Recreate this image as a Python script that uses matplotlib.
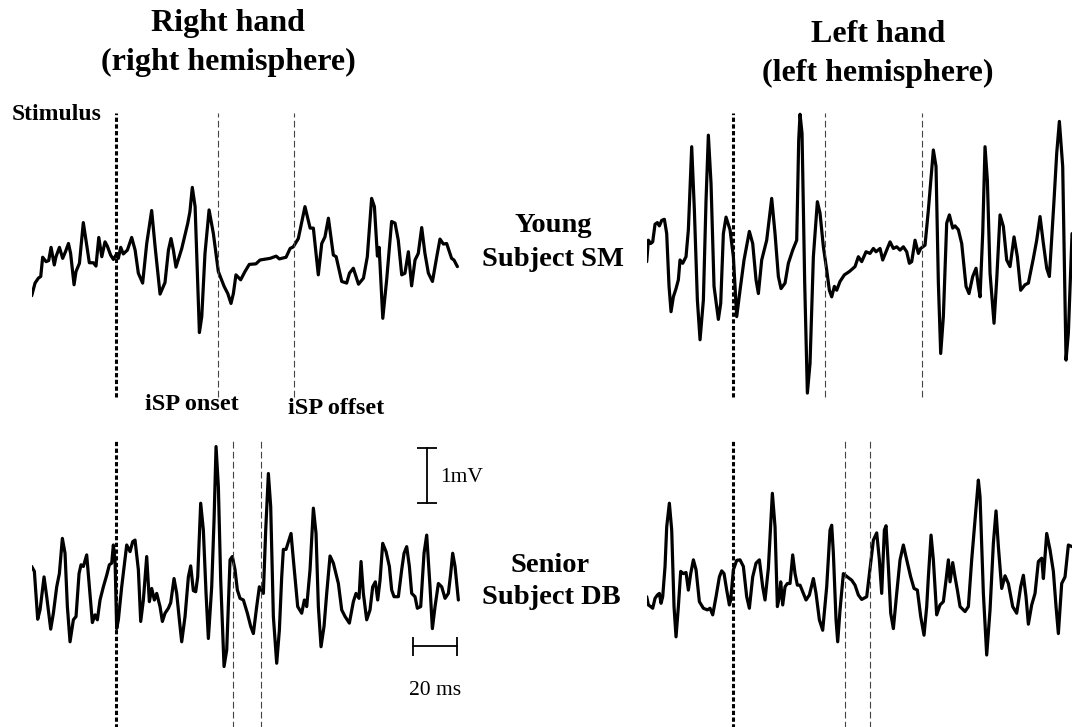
"""
EMG traces for the ipsilateral silent period (iSP), young vs senior subject,
right hand and left hand.
"""

import matplotlib
matplotlib.use("Agg")
import matplotlib.pyplot as plt

plt.rcParams['font.family'] = ['Liberation Serif', 'DejaVu Serif']

# ---- data: time (ms) and amplitude (mV) ----
t_young_right = [0, 1.55, 3.1, 4.2, 5.1, 6.7, 7.9, 9.0, 10.5, 11.3, 12.9, 14.4, 15.7, 17.1, 18.1,
                 19.7, 20.6, 22.2, 24.0, 25.9, 26.8, 28.7, 29.9, 31.2, 32.6, 34.1, 35.2, 36.7,
                 38.0, 39.2, 40.3, 41.4, 42.6, 44.5, 46.5, 48.1, 49.6, 51.6, 53.5, 55.8, 57.4,
                 59.7, 62.0, 63.6, 64.8, 65.9, 67.1, 69.8, 72.6, 73.6, 74.7, 76.0, 78.0, 79.1,
                 80.6, 82.5, 84.5, 86.8, 89.5, 91.2, 92.7, 93.8, 95.0, 97.2, 99.2, 101.2, 104.3,
                 106.2, 110.9, 113.7, 115.2, 118.3, 120.2, 121.7, 124.0, 127.1, 129.5, 131.0,
                 133.3, 134.9, 136.4, 138.0, 140.3, 141.6, 144.2, 146.5, 147.8, 149.6, 152.0,
                 154.3, 156.1, 158.1, 159.4, 160.8, 161.6, 163.3, 165.1, 167.4, 169.0, 170.5,
                 172.1, 173.6, 175.2, 176.7, 178.3, 179.8, 181.4, 182.9, 184.5, 186.4, 188.4,
                 189.9, 191.5, 193.0, 195.3, 196.4, 198.0]
v_young_right = [-0.65, -0.42, -0.33, -0.30, 0.05, -0.03, -0.01, 0.23, -0.09, 0.06, 0.23, 0.03,
                 0.15, 0.30, 0.12, -0.45, -0.21, -0.06, 0.68, 0.19, -0.05, -0.05, -0.11, 0.41,
                 0.06, 0.33, 0.25, 0.09, 0.01, 0.09, 0.03, 0.23, 0.11, 0.18, 0.41, 0.18, -0.24,
                 -0.42, 0.30, 0.90, 0.24, -0.62, -0.41, 0.18, 0.39, 0.18, -0.13, 0.21, 0.67,
                 0.88, 1.32, 0.97, -1.32, -1.03, 0.12, 0.91, 0.48, -0.21, -0.48, -0.61, -0.79,
                 -0.61, -0.27, -0.36, -0.21, -0.08, -0.07, 0.0, 0.03, 0.07, 0.02, 0.05, 0.21,
                 0.24, 0.39, 0.97, 0.58, 0.58, -0.27, 0.30, 0.42, 0.76, 0.09, 0.06, -0.39,
                 -0.42, -0.24, -0.15, -0.44, -0.33, 0.06, 1.12, 0.97, 0.07, 0.23, -1.06, -0.36,
                 0.70, 0.67, 0.36, -0.27, -0.24, 0.15, -0.47, 0.0, 0.12, 0.59, 0.12, -0.24,
                 -0.39, 0.06, 0.38, 0.29, 0.30, 0.03, 0.0, -0.12]

t_young_left = [0, 0.78, 1.86, 2.79, 3.88, 4.96, 5.89, 6.98, 8.22, 9.30, 10.39, 11.32, 12.40,
                13.64, 14.73, 15.50, 16.74, 18.29, 19.38, 20.93, 22.17, 23.57, 24.81, 26.36,
                27.60, 28.68, 29.92, 31.32, 33.33, 34.42, 35.66, 36.90, 38.76, 40.31, 41.86,
                43.41, 45.27, 47.75, 49.30, 50.85, 51.94, 53.49, 55.81, 58.14, 59.69, 61.24,
                62.48, 64.34, 65.89, 67.91, 69.77, 70.70, 71.32, 72.25, 73.49, 74.73, 75.97,
                77.52, 79.38, 80.62, 82.17, 83.72, 84.96, 86.05, 87.29, 88.37, 89.92, 91.94,
                94.26, 96.90, 98.45, 100.0, 102.02, 103.88, 105.43, 106.67, 108.53, 109.77,
                111.32, 113.18, 114.73, 116.28, 117.83, 119.38, 120.93, 122.17, 123.26, 124.81,
                126.36, 127.44, 129.46, 131.01, 133.33, 134.57, 135.66, 136.74, 137.98, 139.53,
                140.78, 142.33, 143.41, 144.96, 146.51, 148.53, 149.92, 151.63, 153.18, 154.26,
                155.04, 156.28, 157.36, 158.45, 159.69, 161.55, 162.79, 164.34, 165.89, 167.44,
                168.99, 170.85, 172.40, 173.95, 175.97, 177.52, 179.84, 181.40, 182.95, 184.50,
                186.05, 187.29, 189.46, 190.70, 191.94, 193.49, 195.04, 196.12, 197.83]
v_young_left = [-0.03, 0.36, 0.30, 0.33, 0.65, 0.68, 0.62, 0.72, 0.74, 0.48, -0.48, -0.94, -0.67,
                -0.52, -0.36, 0.0, -0.06, 0.06, 0.55, 2.06, 0.91, -0.73, -1.45, -0.73, 1.09,
                2.27, 1.39, -0.48, -1.08, -0.79, 0.48, 0.78, 0.55, 0.06, -1.03, -0.55, 0.0,
                0.52, 0.30, -0.36, -0.61, 0.0, 0.36, 1.12, 0.48, -0.30, -0.52, -0.42, -0.06,
                0.18, 0.36, 2.18, 2.65, 2.30, -0.42, -2.42, -1.88, 0.06, 1.06, 0.85, 0.24,
                -0.18, -0.55, -0.67, -0.48, -0.55, -0.39, -0.27, -0.21, -0.12, 0.06, -0.03,
                0.15, 0.12, 0.21, 0.15, 0.21, 0.0, 0.15, 0.33, 0.21, 0.24, 0.18, 0.24, 0.15,
                -0.06, -0.03, 0.36, 0.12, 0.21, 0.27, 0.91, 2.0, 1.70, -0.42, -1.70, -1.03,
                0.67, 0.82, 0.58, 0.62, 0.55, 0.30, -0.48, -0.61, -0.30, -0.15, -0.48, -0.67,
                0.48, 2.06, 1.45, -0.24, -1.15, -0.36, 0.82, 0.61, 0.0, -0.12, 0.42, 0.06,
                -0.55, -0.45, -0.42, 0.03, 0.36, 0.79, 0.30, -0.15, -0.30, 1.09, 1.94, 2.52,
                1.70, -1.82, -1.33, 0.48]

t_senior_right = [0, 1.24, 2.79, 3.88, 5.74, 6.98, 8.84, 10.08, 11.63, 12.87, 14.26, 15.50,
                  16.59, 17.83, 19.38, 20.62, 22.02, 22.95, 24.03, 25.58, 26.82, 28.22, 29.46,
                  30.54, 31.78, 33.33, 34.88, 36.12, 37.21, 37.98, 38.76, 39.53, 40.31, 41.86,
                  44.19, 45.74, 46.98, 48.06, 49.61, 50.70, 51.94, 53.49, 54.73, 55.81, 57.05,
                  58.14, 59.69, 60.78, 62.02, 63.57, 64.65, 66.20, 67.44, 68.68, 69.77, 71.32,
                  72.87, 73.95, 75.19, 76.28, 77.21, 78.60, 79.84, 81.09, 82.17, 83.72, 84.81,
                  85.74, 86.82, 87.91, 89.46, 90.70, 92.25, 93.33, 94.57, 95.66, 96.90, 98.45,
                  100.31, 101.86, 103.10, 104.65, 105.89, 106.98, 107.75, 108.84, 110.08,
                  111.16, 112.40, 113.95, 115.19, 116.28, 117.05, 118.29, 120.62, 121.71,
                  123.72, 125.58, 126.82, 127.91, 129.46, 131.01, 132.25, 133.33, 134.57,
                  135.97, 137.21, 138.76, 140.31, 142.64, 144.19, 145.74, 147.75, 149.61,
                  150.85, 152.25, 153.18, 154.26, 155.81, 157.36, 158.60, 159.84, 160.93,
                  162.02, 163.26, 164.81, 166.36, 167.44, 168.53, 170.54, 172.09, 173.18,
                  174.42, 175.66, 176.74, 178.29, 179.38, 180.93, 182.48, 183.72, 185.27,
                  186.36, 187.60, 189.15, 190.70, 192.25, 193.80, 194.88, 195.81, 196.90, 198.45]
v_senior_right = [0.61, 0.52, -0.35, -0.18, 0.42, 0.06, -0.53, -0.24, 0.24, 0.48, 1.12, 0.85,
                  -0.12, -0.76, -0.36, -0.30, 0.48, 0.64, 0.61, 0.82, 0.24, -0.41, -0.27, -0.36,
                  0.0, 0.24, 0.45, 0.64, 0.67, 1.0, 0.73, -0.52, -0.36, 0.24, 1.0, 0.88, 1.06,
                  1.09, 0.55, -0.39, 0.0, 0.79, -0.03, 0.21, 0.0, 0.12, -0.12, -0.39, -0.24,
                  -0.15, -0.05, 0.39, 0.12, -0.36, -0.76, -0.30, 0.42, 0.62, 0.17, 0.15, 0.42,
                  1.76, 1.27, 0.12, -0.70, 0.24, 1.45, 2.79, 2.06, 0.36, -1.21, -0.91, 0.73,
                  0.79, 0.55, 0.18, 0.03, 0.0, -0.24, -0.48, -0.61, -0.12, 0.24, 0.18, 0.12,
                  1.27, 2.30, 1.70, -0.30, -1.15, -0.55, 0.42, 0.92, 0.92, 1.21, 0.73, -0.12,
                  -0.24, 0.0, -0.12, 0.55, 1.67, 1.21, -0.12, -0.85, -0.48, 0.12, 0.80, 0.67,
                  0.30, -0.18, -0.30, -0.42, -0.03, 0.12, 0.03, 0.70, 0.12, -0.36, -0.18, 0.24,
                  0.33, 0.0, 0.36, 1.03, 0.88, 0.61, 0.18, 0.06, 0.06, 0.55, 0.85, 0.97, 0.61,
                  0.12, 0.06, -0.15, -0.12, 0.85, 1.18, 0.24, -0.52, -0.12, 0.30, 0.24, 0.03,
                  0.12, 0.48, 0.85, 0.61, 0.0]

t_senior_left = [0, 0.78, 1.86, 2.79, 3.88, 4.96, 5.89, 6.67, 7.44, 8.53, 9.30, 10.54, 11.63,
                 12.71, 13.64, 14.73, 15.81, 17.05, 18.29, 19.38, 20.47, 21.71, 22.95, 24.50,
                 26.36, 28.22, 29.46, 30.70, 32.25, 33.80, 34.88, 35.97, 37.21, 38.45, 39.07,
                 40.31, 41.86, 43.41, 44.96, 46.51, 47.75, 49.30, 50.85, 52.40, 53.95, 55.04,
                 56.59, 58.45, 59.69, 60.78, 61.71, 62.33, 63.26, 64.34, 65.43, 66.67, 67.91,
                 68.99, 70.08, 71.32, 72.87, 74.11, 75.66, 77.52, 78.76, 80.31, 81.86, 83.72,
                 85.27, 86.05, 86.82, 88.06, 88.84, 89.92, 91.47, 93.33, 95.35, 96.90, 98.45,
                 100.0, 102.33, 104.19, 105.43, 106.98, 108.22, 109.30, 110.54, 111.32, 112.40,
                 113.49, 114.73, 116.28, 117.83, 119.38, 120.93, 122.79, 124.34, 125.89, 127.44,
                 128.99, 130.23, 131.01, 132.25, 133.33, 134.88, 136.43, 137.98, 139.22, 140.31,
                 141.09, 142.33, 143.41, 144.50, 145.74, 148.06, 149.61, 151.16, 152.71, 154.26,
                 155.04, 156.59, 158.14, 159.69, 161.24, 162.48, 163.57, 165.12, 166.67, 168.22,
                 170.23, 172.09, 173.95, 175.19, 176.43, 177.52, 179.07, 180.62, 182.17, 183.72,
                 184.50, 186.05, 187.60, 189.15, 190.39, 191.47, 193.02, 194.57, 196.12, 197.83]
v_senior_left = [0.06, -0.09, -0.12, -0.15, 0.03, 0.09, 0.12, -0.06, 0.06, 0.61, 1.33, 1.76,
                 1.27, -0.12, -0.67, -0.12, 0.52, 0.48, 0.50, 0.18, 0.48, 0.73, 0.55, -0.03,
                 -0.15, -0.18, -0.15, -0.27, 0.06, 0.42, 0.53, 0.48, 0.18, -0.09, 0.0, 0.55,
                 0.72, 0.73, 0.61, 0.06, -0.15, 0.42, 0.67, 0.73, 0.24, 0.0, 0.58, 1.94, 1.33,
                 -0.12, 0.06, 0.33, -0.09, 0.24, 0.30, 0.30, 0.82, 0.48, 0.27, 0.27, 0.12, 0.0,
                 0.09, 0.39, 0.12, -0.36, -0.55, 0.24, 1.27, 1.36, 0.85, -0.36, -0.76, -0.18,
                 0.48, 0.42, 0.36, 0.27, 0.09, 0.01, 0.06, 0.67, 1.09, 1.22, 0.73, 0.12, 1.27,
                 1.35, 0.61, -0.24, -0.52, 0.12, 0.73, 1.0, 0.73, 0.42, 0.21, 0.18, -0.30,
                 -0.64, -0.12, 0.42, 1.18, 0.73, -0.27, -0.09, -0.03, 0.36, 0.73, 0.33, 0.68,
                 0.42, 0.18, -0.12, -0.21, -0.12, 0.73, 1.45, 2.18, 1.88, 0.12, -1.0, -0.18,
                 1.03, 1.62, 0.97, 0.21, 0.44, 0.30, -0.12, -0.24, 0.24, 0.45, 0.06, -0.44,
                 -0.09, 0.12, 0.70, 0.76, 0.39, 1.21, 0.91, 0.52, -0.12, -0.61, 0.30, 0.42,
                 1.0, 0.97]

# stimulus, iSP onset, iSP offset (ms from start of sweep)
marks_young_right = [39.2, 86.5, 122.0]
marks_young_left = [40.0, 82.9, 127.9]
marks_senior_right = [39.2, 93.5, 106.8]
marks_senior_left = [40.0, 92.2, 103.9]

W, H = 1072, 727
PX_MS = 2.15    # pixels per ms
PX_MV = 55.0    # pixels per mV

fig = plt.figure(figsize=(W / 100, H / 100), dpi=100)


def trace_axes(x0, base):
    """axes whose origin (t=0, v=0) sits at pixel (x0, base) from top-left"""
    ax = fig.add_axes([x0 / W, (H - base - 3 * PX_MV) / H,
                       200 * PX_MS / W, 6 * PX_MV / H])
    ax.set_xlim(0, 200)
    ax.set_ylim(-3, 3)
    ax.axis('off')
    return ax


def draw(ax, t, v, marks, vlo, vhi):
    ax.plot(t, v, color='black', lw=2.3, solid_joinstyle='round', solid_capstyle='round')
    ax.vlines(marks[0], vlo, vhi, color='black', lw=2.2, linestyle=(0, (1.4, 0.8)))
    ax.vlines(marks[1:], vlo, vhi, color='#444444', lw=0.8, linestyle=(0, (6, 3)))


ax1 = trace_axes(31.7, 260)
draw(ax1, t_young_right, v_young_right, marks_young_right, -2.49, 2.67)
ax2 = trace_axes(646.7, 260)
draw(ax2, t_young_left, v_young_left, marks_young_left, -2.49, 2.67)
ax3 = trace_axes(31.7, 600)
draw(ax3, t_senior_right, v_senior_right, marks_senior_right, -3.0, 2.89)
ax4 = trace_axes(646.7, 600)
draw(ax4, t_senior_left, v_senior_left, marks_senior_left, -3.0, 2.89)

# scale bars (1 mV, 20 ms) in the senior right-hand panel
ax3.plot([183.9, 183.9], [1.76, 2.76], color='black', lw=1.3)
ax3.hlines([1.76, 2.76], 179.2, 188.6, color='black', lw=1.3)
ax3.text(190.0, 2.22, '1mV', fontsize=15.5, ha='left', va='center')
ax3.plot([177.3, 198.0], [-0.84, -0.84], color='black', lw=1.3)
ax3.vlines([177.3, 198.0], -1.02, -0.67, color='black', lw=1.3)
ax3.text(187.6, -1.64, '20 ms', fontsize=15.5, ha='center', va='center')


def ftext(x, y, s, size, **kw):
    fig.text(x / W, 1 - y / H, s, fontsize=size, ha='center', va='center', **kw)


ftext(228, 24, 'Right hand', 23, fontweight='bold')
ftext(228, 62, '(right hemisphere)', 23, fontweight='bold')
ftext(878, 35, 'Left hand', 23, fontweight='bold')
ftext(878, 73, '(left hemisphere)', 23, fontweight='bold')
ftext(57, 115, 'Stimulus', 17, fontweight='bold')
ftext(192, 405, 'iSP onset', 17.5, fontweight='bold')
ftext(336, 408, 'iSP offset', 17.5, fontweight='bold')
ftext(553, 225, 'Young', 20.5, fontweight='bold')
ftext(553, 260, 'Subject SM', 20.5, fontweight='bold')
ftext(550, 565, 'Senior', 20.5, fontweight='bold')
ftext(551, 598, 'Subject DB', 20.5, fontweight='bold')

fig.savefig('out.png', dpi=100, facecolor='white')
